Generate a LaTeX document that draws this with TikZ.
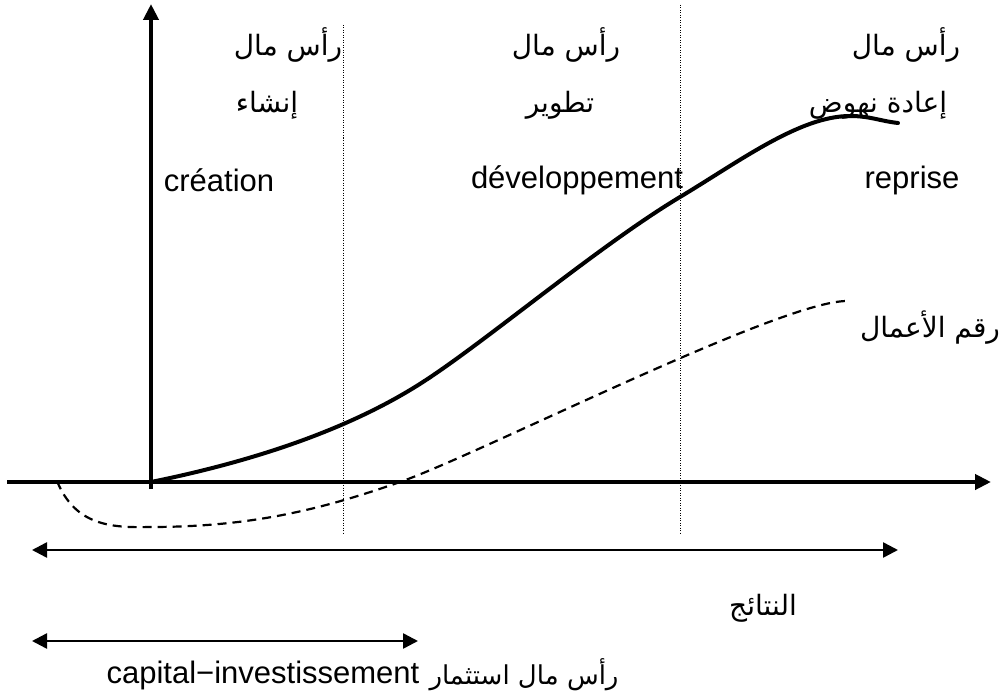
\documentclass[tikz,border=0pt]{standalone}
\usepackage{fontspec}
\setmainfont{Liberation Sans}
\newfontfamily\arabicfont[Script=Arabic]{DejaVu Sans}
\TeXXeTstate=1
\usetikzlibrary{arrows.meta}
\begin{document}
\begin{tikzpicture}[x=1pt,y=-1pt,
  lat/.style={font=\fontsize{31}{36}\selectfont, inner sep=0pt},
  ara/.style={font=\fontsize{28}{34}\selectfont\arabicfont, inner sep=0pt},
  axis/.style={line width=4pt, -{Triangle[length=16pt,width=15pt]}},
  span/.style={line width=2.5pt, {Triangle[length=15pt,width=15pt]}-{Triangle[length=15pt,width=15pt]}},
  sep/.style={line width=1pt, dash pattern=on 1pt off 1.5pt},
  growth/.style={line width=4pt, line cap=round},
  sales/.style={line width=2.2pt, dash pattern=on 9pt off 6pt}
]
\useasboundingbox (0,0) rectangle (1004,698);

% phase separators
\coordinate (s1t) at (343,25);  \coordinate (s1b) at (343,535);
\coordinate (s2t) at (680,5);   \coordinate (s2b) at (680,535);
\draw[sep] (s1t) -- (s1b);
\draw[sep] (s2t) -- (s2b);

% axes
\coordinate (xs) at (7,482);   \coordinate (xe) at (991,482);
\coordinate (ys) at (151,489); \coordinate (ye) at (151,4);
\draw[axis] (xs) -- (xe);
\draw[axis] (ys) -- (ye);

% results curve
\draw[growth] (151,482) .. controls (250,462) and (350,430) .. (426,380)
  .. controls (490,338) and (600,245) .. (680,197)
  .. controls (740,161) and (800,116) .. (850,116)
  .. controls (870,116) and (880,121) .. (898,123);

% turnover curve
\draw[sales] (57,481) .. controls (75,525) and (110,528) .. (150,527)
  .. controls (250,527) and (320,510) .. (400,482)
  .. controls (480,454) and (780,301) .. (847,301);

% phase labels
\node[ara] (c1) at (288,45) {\beginR رأس مال\endR};
\node[ara] (c2) at (566,45) {\beginR رأس مال\endR};
\node[ara] (c3) at (906,45) {\beginR رأس مال\endR};
\node[ara] (p1) at (267,105) {\beginR إنشاء\endR};
\node[ara] (p2) at (560,105) {\beginR تطوير\endR};
\node[ara] (p3) at (878,105) {\beginR إعادة نهوض\endR};
\node[lat] (f1) at (219,180) {création};
\node[lat] (f2) at (577,180) {développement};
\node[lat] (f3) at (912,180) {reprise};

\node[ara] (ca) at (930,328) {\beginR رقم الأعمال\endR};

% spans
\coordinate (r1) at (32,550);  \coordinate (r2) at (898,550);
\draw[span] (r1) -- (r2);
\node[ara] (res) at (763,608) {\beginR النتائج\endR};

\coordinate (i1) at (32,641);  \coordinate (i2) at (418,641);
\draw[span] (i1) -- (i2);
\node[lat] (ci) at (263,675) {capital−investissement};
\node[ara, font=\fontsize{26}{32}\selectfont\arabicfont] (cia) at (524,675) {\beginR رأس مال استثمار\endR};
\end{tikzpicture}
\end{document}
